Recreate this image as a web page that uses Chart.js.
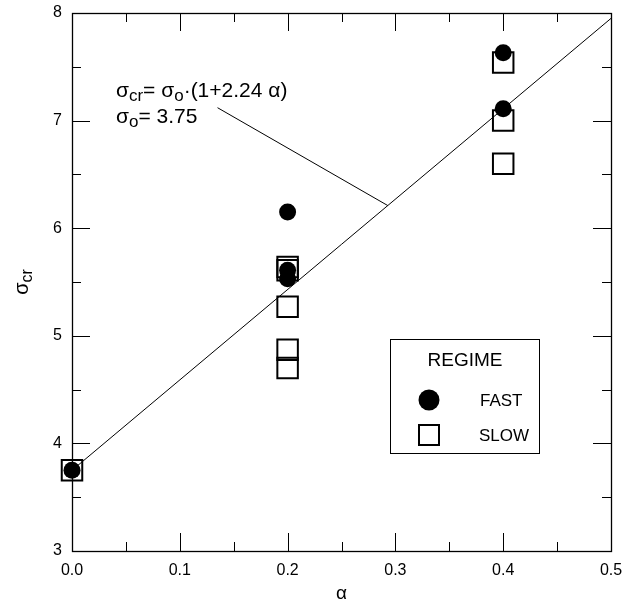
<!DOCTYPE html>
<html>
<head>
<meta charset="utf-8">
<script src="https://cdn.jsdelivr.net/npm/chart.js@4.4.0/dist/chart.umd.min.js"></script>
<style>
body{margin:0;background:#fff}
canvas{display:block}
</style>
</head>
<body>
<canvas id="c" width="623" height="608"></canvas>
<script>
// data
var fastX = [0.0, 0.2, 0.2, 0.2, 0.4, 0.4];
var fastY = [3.75, 6.15, 5.61, 5.53, 7.63, 7.11];
var slowX = [0.0, 0.2, 0.2, 0.2, 0.2, 0.2, 0.4, 0.4, 0.4];
var slowY = [3.75, 5.64, 5.61, 5.27, 4.87, 4.70, 7.54, 7.00, 6.60];
var fitX = [0.0, 0.5];
var fitY = [3.75, 7.95];
var noteX = [0.135, 0.293];
var noteY = [7.12, 6.21];
var xMajor = [0, 0.1, 0.2, 0.3, 0.4, 0.5];
var xMinor = [0.05, 0.15, 0.25, 0.35, 0.45];
var yMajor = [3, 4, 5, 6, 7, 8];
var yMinor = [3.5, 4.5, 5.5, 6.5, 7.5];

var FONT = "'Liberation Sans', Arial, sans-serif";

function pts(xs, ys) {
    var out = [];
    for (let i = 0; i < xs.length; i++) out.push({x: xs[i], y: ys[i]});
    return out;
}

// text with subscripts: parts = [[text, isSub], ...]
function drawParts(ctx, x, y, parts, size) {
    for (let i = 0; i < parts.length; i++) {
        var p = parts[i];
        if (p[1]) {
            ctx.font = Math.round(size * 0.82) + "px " + FONT;
            ctx.fillText(p[0], x, y + size * 0.2);
        } else {
            ctx.font = size + "px " + FONT;
            ctx.fillText(p[0], x, y);
        }
        x += ctx.measureText(p[0]).width;
    }
    return x;
}
function partsWidth(ctx, parts, size) {
    var w = 0;
    for (let i = 0; i < parts.length; i++) {
        ctx.font = (parts[i][1] ? Math.round(size * 0.82) : size) + "px " + FONT;
        w += ctx.measureText(parts[i][0]).width;
    }
    return w;
}

var frame = {
    id: 'frame',
    afterDatasetsDraw(chart) {
        var ctx = chart.ctx, a = chart.chartArea;
        var xs = chart.scales.x, ys = chart.scales.y;
        ctx.save();
        ctx.strokeStyle = '#000';
        ctx.lineWidth = 1;
        ctx.beginPath();
        xMajor.forEach(v => { var p = Math.round(xs.getPixelForValue(v)) + 0.5;
            ctx.moveTo(p, a.bottom); ctx.lineTo(p, a.bottom - 18);
            ctx.moveTo(p, a.top); ctx.lineTo(p, a.top + 18); });
        xMinor.forEach(v => { var p = Math.round(xs.getPixelForValue(v)) + 0.5;
            ctx.moveTo(p, a.bottom); ctx.lineTo(p, a.bottom - 9);
            ctx.moveTo(p, a.top); ctx.lineTo(p, a.top + 9); });
        yMajor.forEach(v => { var p = Math.round(ys.getPixelForValue(v)) + 0.5;
            ctx.moveTo(a.left, p); ctx.lineTo(a.left + 18, p);
            ctx.moveTo(a.right, p); ctx.lineTo(a.right - 18, p); });
        yMinor.forEach(v => { var p = Math.round(ys.getPixelForValue(v)) + 0.5;
            ctx.moveTo(a.left, p); ctx.lineTo(a.left + 9, p);
            ctx.moveTo(a.right, p); ctx.lineTo(a.right - 9, p); });
        ctx.stroke();
        ctx.lineWidth = 1.3;
        ctx.strokeRect(a.left + 0.5, a.top + 0.5, a.right - a.left, a.bottom - a.top);

        // axis titles
        ctx.fillStyle = '#000';
        ctx.textBaseline = 'alphabetic';
        ctx.textAlign = 'left';
        ctx.font = "19px " + FONT;
        var aw = ctx.measureText('α').width;
        ctx.fillText('α', (a.left + a.right) / 2 - aw / 2, 599);

        var yt = [['σ', false], ['cr', true]];
        ctx.save();
        ctx.translate(28, (a.top + a.bottom) / 2);
        ctx.rotate(-Math.PI / 2);
        drawParts(ctx, -partsWidth(ctx, yt, 20) / 2, 0, yt, 20);
        ctx.restore();

        // formula note
        drawParts(ctx, 116, 97, [['σ', false], ['cr', true], ['= σ', false], ['o', true], ['·(1+2.24 α)', false]], 21);
        drawParts(ctx, 116, 123, [['σ', false], ['o', true], ['= 3.75', false]], 21);

        // legend box
        ctx.lineWidth = 1;
        ctx.strokeRect(390.5, 339.5, 149, 114);
        ctx.font = "19px " + FONT;
        ctx.textAlign = 'center';
        ctx.textBaseline = 'middle';
        ctx.fillText('REGIME', 465, 361);
        ctx.font = "17px " + FONT;
        ctx.textAlign = 'left';
        ctx.fillText('FAST', 480, 401);
        ctx.fillText('SLOW', 479, 436);
        ctx.beginPath();
        ctx.arc(429, 400, 10.5, 0, Math.PI * 2);
        ctx.fill();
        ctx.lineWidth = 2;
        ctx.strokeRect(419, 425, 20, 20);
        ctx.restore();
    }
};

var chart = new Chart(document.getElementById('c'), {
    type: 'scatter',
    data: {
        datasets: [{
            label: 'FAST',
            data: pts(fastX, fastY),
            pointStyle: 'circle',
            pointRadius: 8.5,
            backgroundColor: '#000',
            borderWidth: 0,
            clip: false
        }, {
            label: 'SLOW',
            data: pts(slowX, slowY),
            pointStyle: 'rect',
            pointRadius: 14.5,
            backgroundColor: 'rgba(0,0,0,0)',
            borderColor: '#000',
            borderWidth: 2,
            clip: false
        }, {
            label: 'fit',
            data: pts(fitX, fitY),
            showLine: true,
            pointRadius: 0,
            borderColor: '#000',
            borderWidth: 1,
            clip: false
        }, {
            label: 'note',
            data: pts(noteX, noteY),
            showLine: true,
            pointRadius: 0,
            borderColor: '#000',
            borderWidth: 1,
            clip: false
        }]
    },
    options: {
        responsive: false,
        animation: false,
        layout: {padding: {top: 13, right: 12, left: 0, bottom: 0}},
        plugins: {legend: {display: false}, tooltip: {enabled: false}},
        scales: {
            x: {
                type: 'linear', min: 0, max: 0.5,
                grid: {display: false, drawTicks: false},
                border: {display: false},
                ticks: {stepSize: 0.1, padding: 10, color: '#000', maxRotation: 0,
                    font: {family: FONT, size: 16},
                    callback: v => v.toFixed(1)},
                afterFit: s => { s.height = 57; s.paddingLeft = 0; s.paddingRight = 0; }
            },
            y: {
                type: 'linear', min: 3, max: 8,
                grid: {display: false, drawTicks: false},
                border: {display: false},
                ticks: {stepSize: 1, padding: 10, color: '#000',
                    font: {family: FONT, size: 16}},
                afterFit: s => { s.width = 72; s.paddingTop = 0; s.paddingBottom = 0; }
            }
        }
    },
    plugins: [frame]
});

// big square markers should not push the plot area inward
chart.data.datasets.forEach((d, i) => {
    chart.getDatasetMeta(i).controller.getMaxOverflow = () => 0;
});
chart.update();
</script>
</body>
</html>
